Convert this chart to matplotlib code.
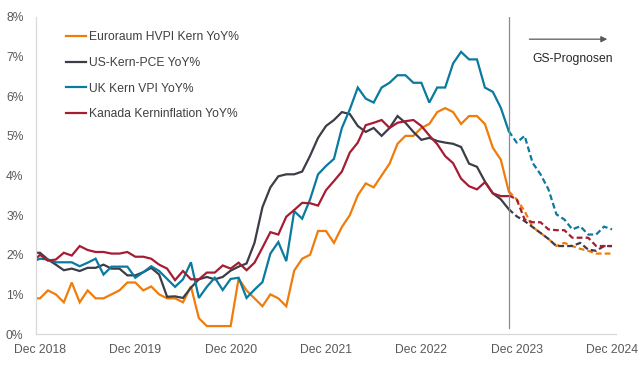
import matplotlib.pyplot as plt
import numpy as np

plt.rcParams['font.family'] = ['Liberation Sans', 'DejaVu Sans']

# month index: 0 = Dec 2018, actual data Nov 2018 .. Nov 2023
months = np.arange(-1, 60)
fc_months = np.arange(59, 73)   # forecast Nov 2023 .. Dec 2024

euro = [0.9, 0.9,
        1.1, 1.0, 0.8, 1.3, 0.8, 1.1, 0.9, 0.9, 1.0, 1.1, 1.3, 1.3,
        1.1, 1.2, 1.0, 0.9, 0.9, 0.8, 1.2, 0.4, 0.2, 0.2, 0.2, 0.2,
        1.4, 1.1, 0.9, 0.7, 1.0, 0.9, 0.7, 1.6, 1.9, 2.0, 2.6, 2.6,
        2.3, 2.7, 3.0, 3.5, 3.8, 3.7, 4.0, 4.3, 4.8, 5.0, 5.0, 5.2,
        5.3, 5.6, 5.7, 5.6, 5.3, 5.5, 5.5, 5.3, 4.7, 4.4, 3.6]
us = [2.05, 2.05,
      1.88, 1.75, 1.61, 1.65, 1.59, 1.67, 1.67, 1.75, 1.65, 1.65, 1.48, 1.48,
      1.56, 1.67, 1.5, 0.94, 0.95, 0.91, 1.17, 1.38, 1.44, 1.38, 1.44, 1.6,
      1.7, 1.78, 2.3, 3.2, 3.7, 3.98, 4.03, 4.03, 4.1, 4.5, 4.95, 5.25,
      5.4, 5.6, 5.55, 5.25, 5.1, 5.2, 5.0, 5.2, 5.5, 5.33, 5.1, 4.9,
      4.95, 4.87, 4.83, 4.8, 4.72, 4.3, 4.22, 3.85, 3.55, 3.4, 3.15]
uk = [1.82, 1.9,
      1.88, 1.81, 1.81, 1.81, 1.71, 1.8, 1.9, 1.5, 1.7, 1.7, 1.7, 1.42,
      1.56, 1.71, 1.59, 1.39, 1.19, 1.38, 1.81, 0.91, 1.19, 1.42, 1.11, 1.39,
      1.42, 0.91, 1.12, 1.31, 2.03, 2.32, 1.84, 3.1, 2.91, 3.4, 4.03, 4.24,
      4.42, 5.2, 5.67, 6.22, 5.94, 5.84, 6.22, 6.34, 6.53, 6.53, 6.34, 6.34,
      5.84, 6.22, 6.22, 6.83, 7.12, 6.93, 6.93, 6.22, 6.11, 5.71, 5.12]
canada = [1.8, 2.0,
          1.85, 1.88, 2.05, 1.98, 2.22, 2.12, 2.07, 2.07, 2.03, 2.03, 2.07, 1.95,
          1.95, 1.9, 1.75, 1.65, 1.36, 1.59, 1.38, 1.38, 1.55, 1.55, 1.73, 1.65,
          1.8, 1.61, 1.8, 2.18, 2.57, 2.51, 2.96, 3.13, 3.31, 3.3, 3.24, 3.63,
          3.86, 4.1, 4.58, 4.83, 5.27, 5.33, 5.4, 5.2, 5.33, 5.37, 5.4, 5.25,
          5.01, 4.79, 4.49, 4.31, 3.92, 3.73, 3.65, 3.83, 3.55, 3.48, 3.48]

euro_fc = [3.6, 3.4, 3.1, 2.7, 2.55, 2.4, 2.22, 2.3, 2.22, 2.15, 2.1, 2.03, 2.03, 2.03]
us_fc = [3.15, 2.97, 2.85, 2.7, 2.55, 2.4, 2.22, 2.22, 2.22, 2.3, 2.13, 2.1, 2.22, 2.22]
uk_fc = [5.12, 4.83, 5.0, 4.32, 4.03, 3.65, 3.02, 2.89, 2.64, 2.72, 2.51, 2.51, 2.71, 2.64]
canada_fc = [3.5, 3.4, 2.89, 2.82, 2.82, 2.64, 2.62, 2.62, 2.43, 2.43, 2.43, 2.22, 2.22, 2.22]

labels = ["Euroraum HVPI Kern YoY%", "US-Kern-PCE YoY%", "UK Kern VPI YoY%",
          "Kanada Kerninflation YoY%"]
colors = ["#f07c0a", "#3c3d47", "#0a7a9e", "#a61d33"]

tick_pos = [0, 12, 24, 36, 48, 60, 72]
tick_labels = ["Dec 2018", "Dec 2019", "Dec 2020", "Dec 2021", "Dec 2022",
               "Dec 2023", "Dec 2024"]
forecast_start = 59

fig = plt.figure(figsize=(6.4, 3.75), dpi=100)
ax = fig.add_axes([0.05625, 0.1093, 0.90625, 0.8454])

for actual, fc, lab, col in zip([euro, us, uk, canada],
                                [euro_fc, us_fc, uk_fc, canada_fc], labels, colors):
    ax.plot(months, actual, color=col, lw=1.6, label=lab, solid_joinstyle='miter')
    ax.plot(fc_months, fc, color=col, lw=1.6, dashes=(2.6, 1.4))

ax.plot([forecast_start, forecast_start], [0.15, 8], color="#8c8c8c", lw=0.9)
ax.annotate("", xy=(71.4, 7.44), xytext=(61.6, 7.44),
            arrowprops=dict(arrowstyle="-|>", color="#595959", lw=0.9,
                            mutation_scale=9, shrinkA=0, shrinkB=0))
ax.text(67.1, 6.93, "GS-Prognosen", ha="center", va="center", fontsize=8.7,
        color="#262626")

ax.set_xlim(-0.5, 72.5)
ax.set_ylim(0, 8)
ax.set_xticks(tick_pos)
ax.set_xticklabels(tick_labels)
ax.set_yticks(range(0, 9))
ax.set_yticklabels([f"{v}%" for v in range(0, 9)])
ax.tick_params(axis="both", length=0, labelsize=8.7, colors="#595959")
ax.tick_params(axis="x", pad=7)
ax.tick_params(axis="y", pad=9)
for s in ["top", "right"]:
    ax.spines[s].set_visible(False)
for s in ["left", "bottom"]:
    ax.spines[s].set_color("#d9d9d9")
    ax.spines[s].set_linewidth(0.9)

ax.legend(loc="upper left", bbox_to_anchor=(0.044, 0.97), frameon=False,
          fontsize=8.7, handlelength=1.65, handletextpad=0.2, labelspacing=1.13,
          borderaxespad=0, labelcolor="#404040")

fig.savefig("out.png", dpi=100)
plt.close(fig)
